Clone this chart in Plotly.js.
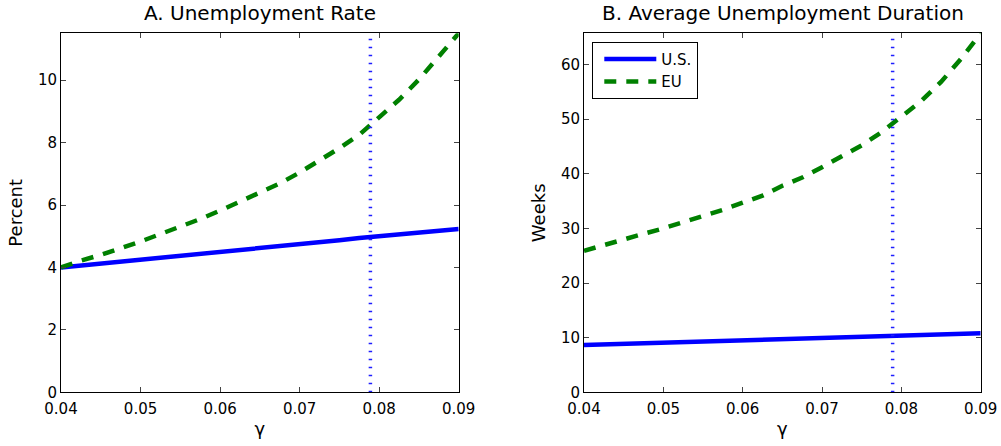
<!DOCTYPE html>
<html>
<head>
<meta charset="utf-8">
<script src="https://cdn.plot.ly/plotly-3.0.1.min.js"></script>
<style>
html,body{margin:0;padding:0;background:#fff;}
#chart{width:1001px;height:446px;}
/* legend sample lines as long as in the reference */
#chart .legend .legendlines path{ d: path("M11,0 h52"); }
</style>
</head>
<body>
<div id="chart"></div>
<script>
// gamma grid
const gamma = [0.04,0.0425,0.045,0.0475,0.05,0.0525,0.055,0.0575,0.06,0.0625,0.065,0.0675,0.07,0.0725,0.075,0.0775,0.08,0.0825,0.085,0.0875,0.09];
// Panel A: unemployment rate (percent)
const rateUS = [4.00,4.06,4.12,4.19,4.25,4.31,4.37,4.44,4.50,4.56,4.62,4.69,4.75,4.81,4.87,4.94,5.00,5.06,5.12,5.18,5.23];
const rateEU = [4.00,4.22,4.40,4.61,4.83,5.07,5.30,5.55,5.82,6.11,6.42,6.69,7.04,7.41,7.82,8.25,8.80,9.37,10.02,10.78,11.5];
// Panel B: average unemployment duration (weeks)
const durUS = [8.65,8.76,8.87,8.98,9.09,9.19,9.30,9.41,9.52,9.63,9.73,9.84,9.95,10.06,10.17,10.28,10.39,10.49,10.60,10.70,10.80];
const durEU = [25.9,27.0,27.9,29.0,30.0,31.1,32.2,33.4,34.7,36.0,37.8,39.3,41.2,43.1,45.2,47.6,50.4,53.3,56.8,61.0,65.7];
// calibrated gamma (vertical reference line)
const gammaCal = 0.0789;
const seriesNames = ['U.S.','EU'];
const panelTitles = ['A. Unemployment Rate','B. Average Unemployment Duration'];
const yTitles = ['Percent','Weeks'];
const xTitle = 'γ';
const xTicks = [0.04,0.05,0.06,0.07,0.08,0.09];
const yTicksA = [0,2,4,6,8,10];
const yTicksB = [0,10,20,30,40,50,60];
const yMaxA = 11.5, yMaxB = 65.7;

const FONT = 'DejaVu Sans, Verdana, sans-serif';
const BLUE = '#0000ff', GREEN = '#008000';
const VCOL = '#1f1fff';

const traces = [
  {x: gamma, y: rateUS, mode:'lines', name: seriesNames[0], line:{color:BLUE,width:4.5}, xaxis:'x', yaxis:'y', showlegend:false},
  {x: gamma, y: rateEU, mode:'lines', name: seriesNames[1], line:{color:GREEN,width:4.5,dash:'12px,10px'}, xaxis:'x', yaxis:'y', showlegend:false},
  {x: [gammaCal,gammaCal], y:[0,yMaxA], mode:'lines', line:{color:VCOL,width:3.5,dash:'1.5px,6.5px'}, xaxis:'x', yaxis:'y', showlegend:false, hoverinfo:'skip'},
  {x: gamma, y: durUS, mode:'lines', name: seriesNames[0], line:{color:BLUE,width:4.5}, xaxis:'x2', yaxis:'y2'},
  {x: gamma, y: durEU, mode:'lines', name: seriesNames[1], line:{color:GREEN,width:4.5,dash:'12px,10px'}, xaxis:'x2', yaxis:'y2'},
  {x: [gammaCal,gammaCal], y:[0,yMaxB], mode:'lines', line:{color:VCOL,width:3.5,dash:'1.5px,6.5px'}, xaxis:'x2', yaxis:'y2', showlegend:false, hoverinfo:'skip'}
];

const H = 446, W = 1001;
const yDom = [(H-392.3)/H, (H-33.3)/H];
function xAxis(dom){
  return {domain: dom, range:[0.04,0.09], tickvals: xTicks, tickformat:'.2f', ticks:'inside', ticklen:5, tickcolor:'#444',
    showline:true, linecolor:'#000', linewidth:1, mirror:'ticks', showgrid:false, zeroline:false, automargin:false,
    tickfont:{family:FONT,size:15,color:'#000'}, ticklabelstandoff:3,
    title:{text:xTitle, font:{family:FONT,size:18,color:'#000'}, standoff:5}};
}
function yAxis(anchor, max, ticks, title){
  return {domain: yDom, anchor: anchor, range:[0,max], tickvals: ticks, ticks:'inside', ticklen:5, tickcolor:'#444',
    showline:true, linecolor:'#000', linewidth:1, mirror:'ticks', showgrid:false, zeroline:false, automargin:false,
    tickfont:{family:FONT,size:15,color:'#000'},
    title:{text:title, font:{family:FONT,size:18,color:'#000'}, standoff:10}};
}

const layout = {
  width: W, height: H,
  margin:{l:0,r:0,t:0,b:0},
  paper_bgcolor:'#fff', plot_bgcolor:'#fff',
  font:{family:FONT,color:'#000'},
  xaxis: Object.assign(xAxis([61/W, 458.7/W]), {anchor:'y'}),
  yaxis: yAxis('x', yMaxA, yTicksA, yTitles[0]),
  xaxis2: Object.assign(xAxis([584/W, 980.7/W]), {anchor:'y2'}),
  yaxis2: yAxis('x2', yMaxB, yTicksB, yTitles[1]),
  showlegend:true,
  legend:{x:592.3/W, y:(H-41.7)/H, xanchor:'left', yanchor:'top', bgcolor:'#fff', bordercolor:'#000', borderwidth:1,
    font:{family:FONT,size:15,color:'#000'}, tracegroupgap:0, itemwidth:58},
  annotations:[
    {text: panelTitles[0], xref:'paper', yref:'paper', x:260/W, y:(H-13)/H, xanchor:'center', yanchor:'middle', showarrow:false, font:{family:FONT,size:20,color:'#000'}},
    {text: panelTitles[1], xref:'paper', yref:'paper', x:783/W, y:(H-13)/H, xanchor:'center', yanchor:'middle', showarrow:false, font:{family:FONT,size:20,color:'#000'}}
  ]
};

Plotly.newPlot('chart', traces, layout, {displayModeBar:false, staticPlot:true});
</script>
</body>
</html>
